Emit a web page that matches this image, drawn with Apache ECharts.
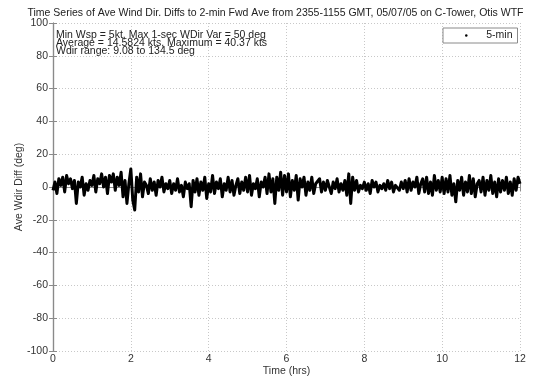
<!DOCTYPE html>
<html>
<head>
<meta charset="utf-8">
<script src="https://cdn.jsdelivr.net/npm/echarts@6/dist/echarts.min.js"></script>
<style>
html,body{margin:0;padding:0;background:#fff;}
#chart{width:551px;height:378px;}
</style>
</head>
<body>
<div id="chart"></div>
<script>
const titleText = "Time Series of Ave Wind Dir. Diffs to 2-min Fwd Ave from 2355-1155 GMT, 05/07/05 on C-Tower, Otis WTF";
const infoLines = [
  "Min Wsp = 5kt, Max 1-sec WDir Var = 50 deg",
  "Average = 14.5824 kts, Maximum = 40.37 kts",
  "Wdir range: 9.08 to 134.5 deg"
];
const seriesName = "5-min";
const xTicks = [0, 2, 4, 6, 8, 10, 12];
const yTicks = [-100, -80, -60, -40, -20, 0, 20, 40, 60, 80, 100];
const timeStepHrs = 0.05;
const diffValues = [
  -2, 3, -4, 5, 1, 6, -3, 7, 2, 5,
  -1, 4, -10, 3, 0, 6, -5, 2, -2, 4,
  1, 7, -3, 5, 2, 8, 0, 6, -4, 7,
  3, 8, -2, 6, 1, 9, -6, 4, -10, 2,
  11, -8, -14, 6, -3, 8, -6, 3, 1, -4,
  5, -2, 3, -5, 4, 0, 6, -3, 2, -1,
  4, -4, 2, -2, 5, -3, 1, -6, 3, -1,
  2, -12, 4, -3, 5, -5, 3, -2, 6, -7,
  2, -3, 7, -4, 3, -1, 5, -6, 2, -2,
  6, -3, 4, -5, 1, 5, -4, 3, -2, 6,
  -3, 7, -5, 2, -1, 5, -6, 3, 0, 6,
  -4, 8, -3, 5, -10, 6, -2, 9, -5, 7,
  -3, 8, -6, 4, -2, 7, -8, 5, 0, 6,
  -5, 3, -2, 6, -4, 2, 1, 5, -3, 3,
  -2, 4, 0, -4, 3, -1, 5, -3, 2, -2,
  4, -5, 8, -10, 6, -2, 4, -3, 1, -1,
  3, -2, 2, -4, 4, 0, 3, -3, 1, -1,
  2, -2, 4, -1, 3, -3, 1, 2, -2, 3,
  -1, 4, -3, 5, -2, 3, 0, 6, -4, 2,
  5, -3, 6, -4, 3, -5, 7, -2, 4, -3,
  6, -4, 5, -3, 7, -5, 2, -9, 4, -2,
  6, -5, 3, -3, 7, -4, 5, -6, 2, 4,
  -3, 6, -5, 4, -2, 7, -4, 3, -6, 5,
  -3, 4, -2, 6, -4, 3, -5, 5, -2, 6, 2
];

const FONT = "'Liberation Sans', Arial, sans-serif";
const frameColor = '#8a8a8a';
const labelColor = '#333';
const xMin = xTicks[0], xMax = xTicks[xTicks.length - 1], xInt = xTicks[1] - xTicks[0];
const yMin = yTicks[0], yMax = yTicks[yTicks.length - 1], yInt = yTicks[1] - yTicks[0];
const points = diffValues.map((v, i) => [i * timeStepHrs, v]);

const baseAxis = {
  axisLine: { show: true, lineStyle: { color: frameColor, width: 1.2 } },
  axisTick: { show: true, inside: true, length: 4, lineStyle: { color: frameColor } },
  splitLine: { show: false }
};

const chart = echarts.init(document.getElementById('chart'), null, { renderer: 'canvas' });
chart.setOption({
  animation: false,
  backgroundColor: '#fff',
  title: {
    text: titleText,
    left: 'center',
    top: 3,
    textStyle: { fontFamily: FONT, fontSize: 10.5, fontWeight: 'normal', color: '#222' }
  },
  grid: { left: 53, right: 31, top: 23, bottom: 27, containLabel: false, outerBoundsMode: 'none' },
  legend: {
    data: [{ name: seriesName, icon: 'circle' }],
    left: 443, top: 28,
    orient: 'vertical',
    itemWidth: 30, itemHeight: 2.5,
    padding: [2, 5, 2, 22],
    borderColor: frameColor, borderWidth: 1,
    backgroundColor: '#fff',
    textStyle: { fontFamily: FONT, fontSize: 10.5, color: '#222' },
    itemStyle: { color: '#000' }
  },
  graphic: [{
    type: 'text',
    left: 56, top: 30,
    z: 100,
    style: {
      text: infoLines.join('\n'),
      fontFamily: FONT, fontSize: 10.5, lineHeight: 8,
      fill: '#222'
    }
  }],
  xAxis: [
    Object.assign({}, baseAxis, {
      type: 'value', min: xMin, max: xMax, interval: xInt, position: 'bottom',
      name: 'Time (hrs)', nameLocation: 'middle', nameGap: 15, nameMoveOverlap: false,
      nameTextStyle: { fontFamily: FONT, fontSize: 10.5, color: labelColor },
      axisLabel: { margin: 3, fontFamily: FONT, fontSize: 10.5, color: labelColor },
      splitLine: { show: true, lineStyle: { color: '#c8c8c8', type: [1, 2], width: 1 } }
    }),
    Object.assign({}, baseAxis, {
      type: 'value', min: xMin, max: xMax, interval: xInt, position: 'top',
      axisLabel: { show: false }
    })
  ],
  yAxis: [
    Object.assign({}, baseAxis, {
      type: 'value', min: yMin, max: yMax, interval: yInt, position: 'left',
      name: 'Ave Wdir Diff (deg)', nameLocation: 'middle', nameGap: 28, nameMoveOverlap: false,
      nameTextStyle: { fontFamily: FONT, fontSize: 10.5, color: labelColor },
      axisLabel: { margin: 5, fontFamily: FONT, fontSize: 10.5, color: labelColor },
      splitLine: { show: true, lineStyle: { color: '#c8c8c8', type: [1, 2], width: 1 } }
    }),
    Object.assign({}, baseAxis, {
      type: 'value', min: yMin, max: yMax, interval: yInt, position: 'right',
      axisLabel: { show: false }
    })
  ],
  series: [{
    name: seriesName,
    type: 'line',
    xAxisIndex: 0, yAxisIndex: 0,
    data: points,
    showSymbol: false,
    symbol: 'circle',
    color: '#000',
    lineStyle: { color: '#000', width: 3, join: 'round' },
    z: 5
  }]
});
</script>
</body>
</html>
